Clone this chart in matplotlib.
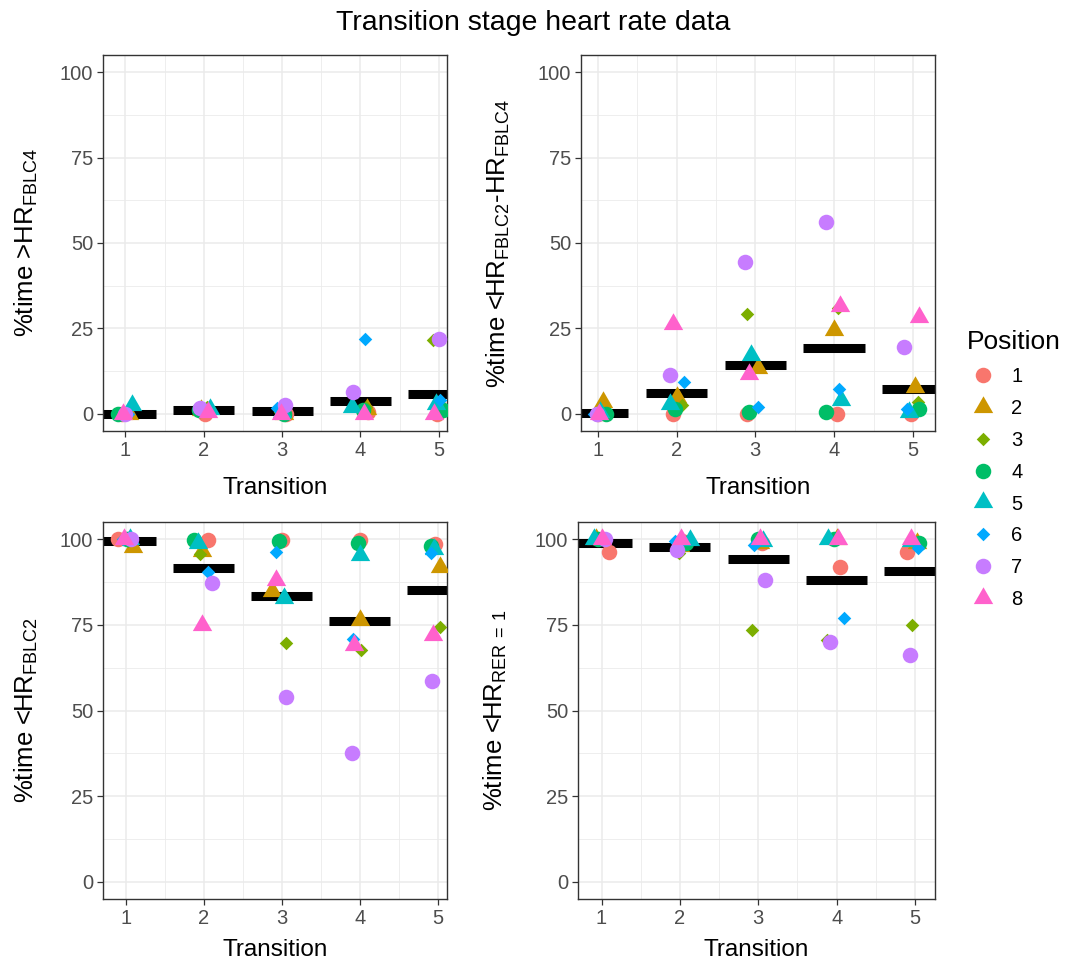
import numpy as np
import matplotlib
matplotlib.use("Agg")
import matplotlib.pyplot as plt
from matplotlib.lines import Line2D

plt.rcParams["font.family"] = ["Liberation Sans", "DejaVu Sans"]
plt.rcParams["mathtext.fontset"] = "custom"
plt.rcParams["mathtext.rm"] = "Liberation Sans"
plt.rcParams["mathtext.default"] = "regular"

# Data
transitions = [1, 2, 3, 4, 5]
positions = ["1", "2", "3", "4", "5", "6", "7", "8"]
colors = ["#F8766D", "#CD9600", "#7CAE00", "#00BE67",
          "#00BFC4", "#00A9FF", "#C77CFF", "#FF61CC"]

# rows = position 1..8, columns = transition 1..5
above_fblc4 = [
    [0, 0, 0, 0.5, 0],
    [0, 1, 0, 1.5, 1],
    [0, 2, 0.5, 2, 21.5],
    [0, 1, 0, 1, 1],
    [2.5, 1.5, 0.5, 2, 3],
    [0, 1, 1.8, 22, 4],
    [0, 1.7, 2.6, 6.5, 22],
    [0, 0.5, 0, 0, 0],
]
above_fblc4_jitter = [
    [-0.05, 0.02, 0.05, 0.10, -0.02],
    [0.04, -0.03, 0.02, 0.08, 0.05],
    [-0.02, 0.04, -0.03, 0.07, -0.07],
    [-0.10, -0.06, 0.03, 0.03, 0.06],
    [0.08, 0.08, 0.00, -0.11, -0.03],
    [0.03, -0.02, -0.06, 0.06, 0.02],
    [0.00, -0.05, 0.04, -0.09, 0.00],
    [-0.03, 0.05, -0.02, 0.05, -0.06],
]
above_fblc4_mean = [0, 1, 0.8, 3.8, 5.9]

between = [
    [0, 0, 0, 0, 0],
    [3.4, 4.9, 13.3, 24.5, 7.9],
    [0.5, 2.5, 29.2, 31.0, 3.5],
    [0, 1.5, 0.5, 0.5, 1.5],
    [0.5, 3.0, 17.2, 4.0, 0.5],
    [0, 9.3, 2.0, 7.4, 1.5],
    [0, 11.3, 44.5, 56.2, 19.6],
    [0, 26.4, 11.6, 31.5, 28.4],
]
between_jitter = [
    [0.00, -0.04, -0.10, 0.04, -0.03],
    [0.07, 0.00, 0.04, 0.00, 0.03],
    [0.05, 0.07, -0.11, 0.05, 0.06],
    [0.11, -0.02, -0.08, -0.10, 0.08],
    [0.03, -0.08, -0.06, 0.09, -0.05],
    [-0.05, 0.09, 0.04, 0.06, -0.07],
    [-0.01, -0.08, -0.13, -0.10, -0.11],
    [0.02, -0.04, -0.08, 0.08, 0.08],
]
between_mean = [0.4, 6.2, 14.2, 19.2, 7.3]

below_fblc2 = [
    [100, 99.7, 99.7, 99.7, 98.5],
    [97.8, 96.5, 85, 76.4, 91.8],
    [99.4, 95.8, 69.6, 67.6, 74.5],
    [100, 99.7, 99.5, 99.0, 98.0],
    [100, 99.0, 82.7, 95.3, 97.0],
    [100, 90.5, 96.3, 71.0, 96.0],
    [100, 87.1, 53.9, 37.5, 58.6],
    [100, 74.9, 88.0, 69.0, 72.0],
]
below_fblc2_jitter = [
    [-0.10, 0.05, 0.00, 0.00, -0.03],
    [0.09, -0.03, -0.12, 0.01, 0.03],
    [0.03, -0.05, 0.05, 0.02, 0.03],
    [0.01, -0.12, -0.03, -0.02, -0.08],
    [0.05, -0.08, 0.03, 0.01, -0.05],
    [-0.04, 0.05, -0.08, -0.09, -0.09],
    [0.07, 0.10, 0.05, -0.10, -0.07],
    [-0.02, -0.03, -0.08, -0.07, -0.06],
]
below_fblc2_mean = [99.6, 91.5, 83.5, 76.2, 85.1]

below_rer1 = [
    [96.3, 99.5, 99.0, 91.9, 96.3],
    [100, 98.0, 99.0, 100, 99.0],
    [100, 96.0, 73.5, 70.5, 75.0],
    [100, 99.0, 100, 100, 99.0],
    [100, 99.7, 99.5, 100, 99.5],
    [100, 99.5, 98.3, 76.9, 97.3],
    [100, 96.8, 88.0, 70.1, 66.2],
    [100, 100, 100, 100, 100],
]
below_rer1_jitter = [
    [0.10, 0.03, 0.05, 0.04, -0.10],
    [-0.07, 0.00, 0.02, 0.00, 0.02],
    [-0.02, -0.01, -0.08, -0.12, -0.04],
    [-0.04, 0.08, 0.00, -0.04, 0.05],
    [-0.09, 0.13, 0.06, -0.11, -0.05],
    [0.02, -0.06, -0.06, 0.09, 0.04],
    [0.05, -0.04, 0.09, -0.09, -0.06],
    [0.00, 0.02, 0.02, 0.02, -0.05],
]
below_rer1_mean = [99.0, 97.8, 94.1, 88.2, 90.8]

# shapes: circle, triangle, small diamond (ggplot default cycle)
shapes = ["o", (3, 0, 0), (4, 0, 0)] * 3
sizes = [125, 260, 95] * 3

W, H = 1066, 967
fig = plt.figure(figsize=(W / 100, H / 100), dpi=100)


def add_panel(l, r, t, b):
    return fig.add_axes([l / W, 1 - b / H, (r - l) / W, (b - t) / H])


panels = [
    (add_panel(103, 447, 55, 431), above_fblc4, above_fblc4_jitter, above_fblc4_mean,
     r"%time >HR$_{FBLC4}$", (0.713, 5.106), -0.183),
    (add_panel(581, 935, 55, 431), between, between_jitter, between_mean,
     r"%time <HR$_{FBLC2}$-HR$_{FBLC4}$", (0.788, 5.28), -0.195),
    (add_panel(103, 447, 522, 899), below_fblc2, below_fblc2_jitter, below_fblc2_mean,
     r"%time <HR$_{FBLC2}$", (0.706, 5.12), -0.183),
    (add_panel(578, 935, 522, 899), below_rer1, below_rer1_jitter, below_rer1_mean,
     r"%time <HR$_{RER\,=\,1}$", (0.70, 5.255), -0.193),
]

for ax, vals, jit, means, ylab, xlim, ylab_x in panels:
    ax.hlines(means, np.array(transitions) - 0.39, np.array(transitions) + 0.39,
              color="black", linewidth=6.5, zorder=2)
    for i in range(8):
        x = np.array(transitions) + np.array(jit[i])
        ax.scatter(x, vals[i], marker=shapes[i], s=sizes[i], color=colors[i],
                   linewidths=0, zorder=3)
    ax.set_xlim(*xlim)
    ax.set_ylim(-5, 105)
    ax.set_xticks(transitions)
    ax.set_yticks([0, 25, 50, 75, 100])
    ax.set_xticks([1.5, 2.5, 3.5, 4.5], minor=True)
    ax.set_yticks([12.5, 37.5, 62.5, 87.5], minor=True)
    ax.grid(True, which="major", color="#EBEBEB", linewidth=1.1, zorder=0)
    ax.grid(True, which="minor", color="#EBEBEB", linewidth=0.6, zorder=0)
    ax.set_axisbelow(True)
    ax.tick_params(which="minor", length=0)
    ax.tick_params(which="major", length=4, width=0.9, color="#333333",
                   labelsize=14.5, labelcolor="#4D4D4D", pad=3)
    for sp in ax.spines.values():
        sp.set_color("#333333")
        sp.set_linewidth(1.0)
    ax.set_xlabel("Transition", fontsize=17.5)
    ax.set_ylabel(ylab, fontsize=18.5)
    ax.yaxis.set_label_coords(ylab_x, 0.5)

for ax in [panels[0][0], panels[1][0]]:
    ax.xaxis.set_label_coords(0.5, (431 - 477) / 376)
for ax in [panels[2][0], panels[3][0]]:
    ax.xaxis.set_label_coords(0.5, (899 - 939) / 377)

fig.suptitle("Transition stage heart rate data", fontsize=20.5, y=1 - 23 / H, va="center")

handles = [Line2D([], [], linestyle="None", marker=shapes[i], color=colors[i],
                  markeredgewidth=0, markersize=np.sqrt(sizes[i]))
           for i in range(8)]
leg = fig.legend(handles, positions, title="Position", loc="upper left",
                 bbox_to_anchor=(957 / W, 1 - 320 / H), frameon=False,
                 fontsize=14.5, title_fontsize=19, labelspacing=0.64,
                 handletextpad=0.6, borderpad=0, handlelength=1.6)
leg._legend_box.align = "left"

fig.savefig("out.png", dpi=100, facecolor="white")
